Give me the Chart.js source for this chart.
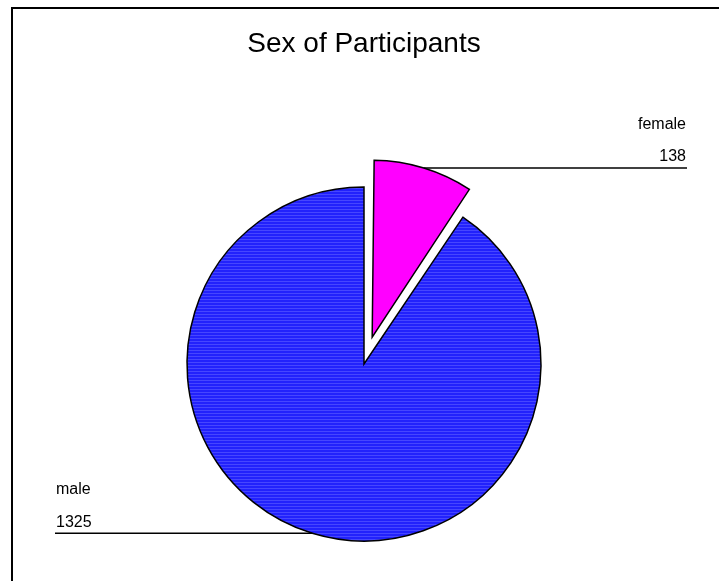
<!DOCTYPE html>
<html>
<head>
<meta charset="utf-8">
<title>Sex of Participants</title>
<script src="https://cdn.jsdelivr.net/npm/chart.js@4/dist/chart.umd.min.js"></script>
<style>
  html, body { margin: 0; padding: 0; background: #ffffff; }
  #sexChart { display: block; }
</style>
</head>
<body>
<canvas id="sexChart" width="719" height="581"></canvas>
<script>
const categories = ["female", "male"];
const participantCounts = [138, 1325];

const PIE_RADIUS = 177;
const EXPLODE = 28; // how far the female slice is pulled out

// blue fill with fine horizontal shading lines
function stripePattern() {
  const c = document.createElement("canvas");
  c.width = 1;
  c.height = 3;
  const g = c.getContext("2d");
  g.fillStyle = "#2222fc";
  g.fillRect(0, 0, 1, 3);
  g.fillStyle = "#4646ff";
  g.fillRect(0, 2, 1, 1);
  return g.createPattern(c, "repeat");
}

const sliceLabels = {
  id: "sliceLabels",
  afterDatasetUpdate(chart, args) {
    // ArcElement grows small exploded slices by a fraction of the offset;
    // shrink them back so every slice keeps the same drawn radius
    args.meta.data.forEach((arc) => {
      const shift = (arc.options.offset || 0) / 4;
      const fix = 1 - Math.sin(Math.min(Math.PI, arc.circumference));
      arc.outerRadius = PIE_RADIUS - shift * fix;
    });
  },
  afterDraw(chart) {
    const ctx = chart.ctx;
    const meta = chart.getDatasetMeta(0);
    ctx.save();

    // frame along the top and left edges
    ctx.fillStyle = "#000000";
    ctx.fillRect(11, 7, 2, chart.height - 7);
    ctx.fillRect(11, 7, chart.width - 11, 2);

    ctx.font = "16px 'Liberation Sans', Arial, sans-serif";
    ctx.textBaseline = "alphabetic";
    meta.data.forEach((arc, i) => {
      const mid = (arc.startAngle + arc.endAngle) / 2;
      const shift = (arc.options.offset || 0) / 4;
      const px = arc.x + Math.cos(mid) * (shift + PIE_RADIUS);
      const py = arc.y + Math.sin(mid) * (shift + PIE_RADIUS);
      const right = Math.cos(mid) >= 0;
      const edge = right ? 687 : 55;

      ctx.strokeStyle = "#000000";
      ctx.lineWidth = 1.5;
      ctx.beginPath();
      ctx.moveTo(px, py);
      ctx.lineTo(edge, py);
      ctx.stroke();

      ctx.fillStyle = "#000000";
      ctx.textAlign = right ? "right" : "left";
      const tx = right ? edge - 1 : edge + 1;
      ctx.fillText(categories[i], tx, py - 39);
      ctx.fillText(String(participantCounts[i]), tx, py - 6.5);
    });
    ctx.restore();
  },
};

new Chart(document.getElementById("sexChart"), {
  type: "pie",
  data: {
    labels: categories,
    datasets: [
      {
        data: participantCounts,
        backgroundColor: ["#ff00ff", stripePattern()],
        borderColor: "#000000",
        borderWidth: 1.5,
        borderJoinStyle: "miter",
        offset: [EXPLODE * 4, 0],
        radius: PIE_RADIUS,
      },
    ],
  },
  options: {
    responsive: false,
    animation: false,
    layout: { padding: { left: 9, right: 0, top: 0, bottom: 0 } },
    plugins: {
      legend: { display: false },
      tooltip: { enabled: false },
      title: {
        display: true,
        text: "Sex of Participants",
        color: "#000000",
        font: { family: "'Liberation Sans', Arial, sans-serif", size: 28, weight: "normal", lineHeight: 1.2 },
        padding: { top: 27.5, bottom: 85.9 },
      },
    },
  },
  plugins: [sliceLabels],
});
</script>
</body>
</html>
